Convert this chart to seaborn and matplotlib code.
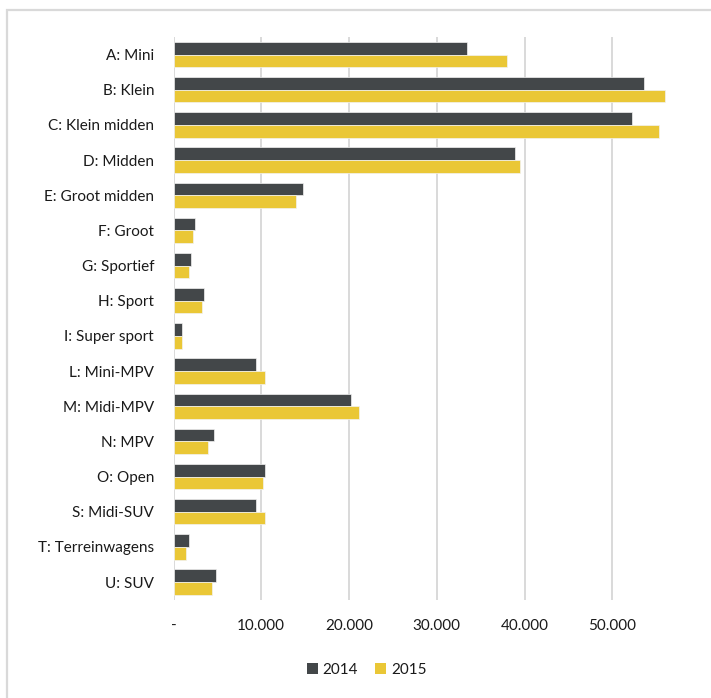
import matplotlib
matplotlib.use("Agg")
import matplotlib.pyplot as plt
from matplotlib.patches import Rectangle, Patch
from matplotlib.ticker import FuncFormatter, FixedLocator
import pandas as pd
import seaborn as sns

# Car registrations per segment
segments = [
    "A: Mini", "B: Klein", "C: Klein midden", "D: Midden", "E: Groot midden",
    "F: Groot", "G: Sportief", "H: Sport", "I: Super sport", "L: Mini-MPV",
    "M: Midi-MPV", "N: MPV", "O: Open", "S: Midi-SUV", "T: Terreinwagens",
    "U: SUV",
]
sales_2014 = [33470, 53660, 52240, 38970, 14740, 2500, 2000, 3440, 1000, 9440,
              20250, 4620, 10380, 9440, 1720, 4870]
sales_2015 = [38000, 56000, 55340, 39460, 14000, 2200, 1720, 3200, 1000, 10380,
              21190, 3890, 10170, 10380, 1480, 4380]
years = ["2014", "2015"]
colors = ["#434749", "#EAC736"]
x_ticks = [0, 10000, 20000, 30000, 40000, 50000]

df = pd.DataFrame({"Segment": segments, "2014": sales_2014, "2015": sales_2015})
long = df.melt(id_vars="Segment", value_vars=years, var_name="Jaar", value_name="Aantal")

sns.set_theme(style="white")
plt.rcParams["font.family"] = ["Lato", "DejaVu Sans"]

fig = plt.figure(figsize=(7.11, 6.98), dpi=100)
ax = fig.add_axes([173.5 / 711, 1 - 599.6 / 698, 526.5 / 711, (599.6 - 37) / 698])

sns.barplot(
    data=long, y="Segment", x="Aantal", hue="Jaar", hue_order=years,
    palette=colors, saturation=1, orient="h", width=0.72, order=segments,
    edgecolor="#f2f2f2", linewidth=0.5, ax=ax, legend=False,
)

ax.set_xlim(0, 60000)
ax.xaxis.set_major_locator(FixedLocator(x_ticks))
ax.xaxis.set_major_formatter(
    FuncFormatter(lambda v, _: "-" if v == 0 else f"{v:,.0f}".replace(",", "."))
)
ax.grid(axis="x", color="#d9d9d9", linewidth=1.4)
ax.grid(axis="y", visible=False)
ax.set_axisbelow(True)
for s in ax.spines.values():
    s.set_visible(False)
ax.set_xlabel("")
ax.set_ylabel("")
ax.tick_params(axis="y", length=0, pad=14, labelsize=11, labelcolor="#1a1a1a")
ax.tick_params(axis="x", length=0, pad=14, labelsize=11, labelcolor="#1a1a1a")

handles = [Patch(facecolor=c, edgecolor="none", label=y) for c, y in zip(colors, years)]
fig.legend(
    handles=handles, loc="center", bbox_to_anchor=(366.5 / 711, 1 - 670 / 698),
    ncol=2, frameon=False, fontsize=11, handlelength=0.75, handleheight=0.75,
    handletextpad=0.3, columnspacing=1.1, labelcolor="#1a1a1a",
)

# Chart frame
fig.add_artist(Rectangle((7 / 711, -0.05), 1.2, 1 - 10 / 698 + 0.05,
                         transform=fig.transFigure, fill=False,
                         edgecolor="#d9d9d9", linewidth=1.6))

fig.savefig("out.png", dpi=100, facecolor="white")
